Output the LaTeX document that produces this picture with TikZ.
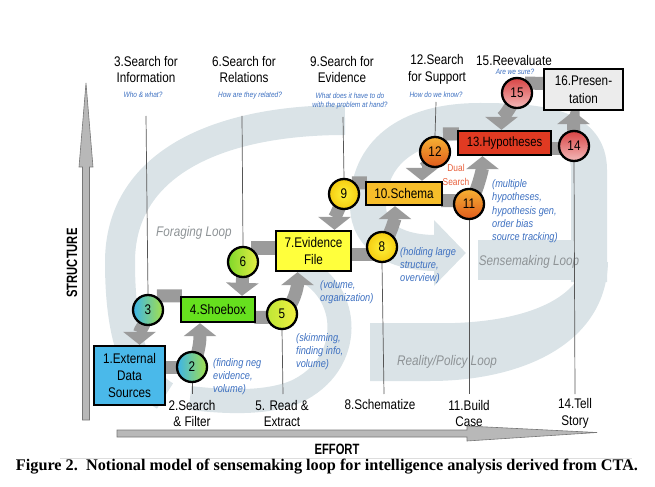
\documentclass[tikz,border=0pt]{standalone}
\usepackage{fontspec}
\setmainfont{Liberation Sans}
\newfontfamily\cnd{Liberation Sans}[FakeStretch=0.84]
\newfontfamily\axf{Liberation Sans}[FakeStretch=0.75]
\newfontfamily\capf{Liberation Serif}
\usetikzlibrary{arrows.meta,calc}
\pgfdeclarelayer{bg}
\pgfdeclarelayer{mid}
\pgfsetlayers{bg,mid,main}
\definecolor{swirl}{HTML}{DAE3E7}
\definecolor{bandc}{HTML}{9B9B9B}
\definecolor{annot}{HTML}{3C6FC0}
\definecolor{loopc}{HTML}{8E9396}
\definecolor{dualc}{HTML}{E8603C}
\definecolor{leadc}{HTML}{555555}
\definecolor{axfill}{HTML}{B8B8B8}
\definecolor{axline}{HTML}{777777}
\definecolor{fillA}{HTML}{4AB9EA}
\definecolor{fillB}{HTML}{66E01E}
\definecolor{fillC}{HTML}{FFFF3C}
\definecolor{fillD}{HTML}{F6BD2A}
\definecolor{fillE}{HTML}{E03A22}
\definecolor{fillF}{HTML}{ECECEC}
\definecolor{cyanc}{HTML}{3CB4EA}
\definecolor{lgreen}{HTML}{A4E04A}
\definecolor{greenc}{HTML}{7FD82A}
\definecolor{ygreen}{HTML}{E6EE44}
\definecolor{ygreenb}{HTML}{BDE636}
\definecolor{yell}{HTML}{F2F040}
\definecolor{yin}{HTML}{FFF23A}
\definecolor{yout}{HTML}{F5CC10}
\definecolor{oran}{HTML}{F6B233}
\definecolor{orred}{HTML}{E05A1C}
\definecolor{redc}{HTML}{D84545}
\definecolor{pinkc}{HTML}{F4B9B9}
\definecolor{sepc}{HTML}{DDDDDD}
\begin{document}
\begin{tikzpicture}[x=1bp,y=-1bp,
  box/.style={draw=black, line width=2.3bp, inner sep=0pt, align=center,
    font=\cnd\fontsize{14}{17.5}\selectfont, text=black},
  num/.style={circle, draw=black, line width=2.3bp, minimum size=30bp,
    inner sep=0pt, font=\cnd\fontsize{14}{14}\selectfont},
  gband/.style={draw=bandc, line width=13bp},
  garrow/.style={gband, -{Triangle[width=32bp,length=13bp]}},
  lead/.style={draw=leadc, line width=0.7bp},
  lab/.style={font=\cnd\fontsize{14}{17}\selectfont, align=center, inner sep=0pt},
  qtext/.style={font=\cnd\itshape\fontsize{7.8}{10}\selectfont, text=annot, align=center, inner sep=0pt},
  ann/.style={font=\cnd\itshape\fontsize{11}{13}\selectfont, text=annot, align=left, inner sep=0pt, anchor=north west},
  loopl/.style={font=\cnd\itshape\fontsize{14}{14}\selectfont, text=loopc, inner sep=0pt},
  dual/.style={font=\cnd\fontsize{10}{14}\selectfont, text=dualc, align=center, inner sep=0pt},
  axl/.style={font=\axf\bfseries\fontsize{15}{15}\selectfont, inner sep=0pt},
  capn/.style={font=\capf\bfseries\fontsize{16.3}{16.3}\selectfont, inner sep=0pt},
  swirlband/.style={draw=swirl, line cap=butt}
]
\useasboundingbox (0,0) rectangle (655,487);

% ---------- boxes ----------
\node[box, fill=fillA, minimum width=71bp, minimum height=59bp] (b1) at (129.5,375.5) {1.External\\Data\\Sources};
\node[box, fill=fillB, minimum width=74bp, minimum height=25bp] (b4) at (218,309.5) {4.Shoebox};
\node[box, fill=fillC, minimum width=75bp, minimum height=40bp] (b7) at (313.5,251) {7.Evidence\\File};
\node[box, fill=fillD, minimum width=76bp, minimum height=23bp] (b10) at (404,193.5) {10.Schema};
\node[box, fill=fillE, minimum width=93bp, minimum height=24bp, font=\cnd\fontsize{13.5}{15}\selectfont] (b13) at (504.5,143) {13.Hypotheses};
\node[box, fill=fillF, minimum width=79bp, minimum height=41bp] (b16) at (583.5,89.5) {16.Presen-\\tation};

% ---------- circles ----------
\node[num, left color=cyanc, right color=lgreen] (c2) at (192,367) {2};
\node[num, left color=cyanc, right color=lgreen] (c3) at (148,310) {3};
\node[num, left color=ygreenb, right color=yell] (c5) at (282,314) {5};
\node[num, left color=greenc, right color=ygreen] (c6) at (243,262) {6};
\node[num, inner color=yin, outer color=yout] (c8) at (382,247) {8};
\node[num, inner color=yin, outer color=yout] (c9) at (344,194) {9};
\node[num, top color=oran, bottom color=orred] (c11) at (469,204) {11};
\node[num, top color=oran, bottom color=orred] (c12) at (435,152) {12};
\node[num, top color=redc, bottom color=pinkc] (c14) at (574,146) {14};
\node[num, top color=redc, bottom color=pinkc] (c15) at (517,93) {15};

% ---------- background swirls ----------
\begin{pgfonlayer}{bg}
\draw[swirlband, line width=30bp] (345,120) .. controls (215,120) and (120,165) .. (120,262) .. controls (120,335) and (135,378) .. (165,396);
\draw[swirlband, line width=24bp] (300,268) .. controls (352,290) and (355,365) .. (295,392) .. controls (265,404) and (225,402) .. (190,398);
\fill[swirl] (478,240) rectangle (592,280);
\draw[swirlband, line width=36bp, -{Triangle[width=64bp,length=32bp]}] (589,282) -- (589,170) .. controls (589,128) and (545,121) .. (480,121) .. controls (405,121) and (368,155) .. (368,205) .. controls (368,240) and (400,253) .. (466,253);
\fill[swirl] (370,323) -- (455,323) .. controls (535,320) and (578,295) .. (585,262) -- (608,262) .. controls (606,345) and (520,381) .. (430,381) -- (370,381) -- cycle;
\node[loopl] (fl) at (194,233) {Foraging Loop};
\node[loopl] (sl) at (529,262) {Sensemaking Loop};
\node[loopl] (rl) at (447,362) {Reality/Policy Loop};
\draw[sepc, line width=0.8bp] (60,458) -- (632,458);
\end{pgfonlayer}

% ---------- leader lines, connectors ----------
\coordinate (t3) at (146,116);
\coordinate (t6) at (242,116);
\coordinate (t9) at (343,117);
\coordinate (t12) at (436,102);
\coordinate (d2) at (192,394);
\coordinate (d5) at (283,394);
\coordinate (d8) at (384,394);
\coordinate (d11) at (469,394);
\coordinate (d14) at (575,394);
\begin{pgfonlayer}{mid}
\node[dual] (ds) at (456,175) {Dual\\Search};
\draw[lead] (t3) -- (c3.north);
\draw[lead] (t6) -- (c6.north);
\draw[lead] (t9) -- (c9.north);
\draw[lead] (t12) -- (c12.north);
\draw[lead] (c2.south) -- (d2);
\draw[lead] (c5.south) -- (d5);
\draw[lead] (c8.south) -- (d8);
\draw[lead] (c11.south) -- (d11);
\draw[lead] (c14.south) -- (d14);
% 1 -> 2 -> 4
\draw[gband] (b1.east |- c2) -- (c2.center);
\draw[garrow] (c2.center) .. controls +(8,-15) and +(0,15) .. ($(b4.south)+(-18,0)$);
% 4 -> 3 -> 1
\draw[gband] ($(b4.north west)+(2,0)$) -- ($(c3)+(9,-14)$);
\draw[garrow] (c3.center) .. controls +(-2,15) and +(0,-15) .. ($(b1.north)+(10,0)$);
% 4 -> 5 -> 7
\draw[gband] ($(b4.east)+(-2,8)$) -- ($(c5)+(0,3)$);
\draw[garrow] (c5.center) .. controls +(12,-8) and +(0,14) .. ($(b7.south)+(-16,0)$);
% 7 -> 6 -> 4
\draw[gband] ($(b7.west)+(2,-3)$) -- ($(c6)+(8,-14)$);
\draw[garrow] (c6.center) -- ($(b4.north)+(24,0)$);
% 7 -> 8 -> 10
\draw[gband] ($(b7.east)+(-2,3)$) -- ($(c8)+(0,7)$);
\draw[garrow] (c8.center) .. controls +(8,-10) and +(0,12) .. ($(b10.south)+(-9,0)$);
% 10 -> 9 -> 7
\draw[gband] ($(b10.north west)+(2,2)$) -- ($(c9)+(8,-11)$);
\draw[garrow] (c9.center) .. controls +(-4,14) and +(0,-12) .. ($(b7.north)+(21,0)$);
% 10 -> 11 -> 13
\draw[gband] ($(b10.east)+(-2,7)$) -- ($(c11)+(0,-3)$);
\draw[garrow] (c11.center) .. controls +(8,-10) and +(0,12) .. ($(b13.south)+(-22,0)$);
% 13 -> 12 -> 10
\draw[gband] ($(b13.north west)+(2,4)$) -- ($(c12)+(8,-18)$);
\draw[garrow] (c12.center) .. controls +(-3,12) and +(0,-10) .. ($(b10.north)+(18,0)$);
% 13 -> 14 -> 16
\draw[gband] ($(b13.east)+(-2,6)$) -- ($(c14)+(0,3)$);
\draw[garrow] (c14.center) .. controls +(0,-10) and +(0,10) .. ($(b16.south)+(-10,0)$);
% 16 -> 15 -> 13
\draw[gband] ($(b16.west)+(2,-6)$) -- ($(c15)+(8,-10)$);
\draw[garrow] (c15.center) .. controls +(-5,14) and +(0,-10) .. ($(b13.north)+(-3,0)$);
\end{pgfonlayer}

% ---------- axes ----------
\filldraw[fill=axfill, draw=axline, line width=0.6bp] (82.5,420) -- (82.5,167) -- (79,167) -- (86,83) -- (93,167) -- (89.5,167) -- (89.5,420) -- cycle;
\filldraw[fill=axfill, draw=axline, line width=0.6bp] (117,430) -- (467,430) -- (467,426) -- (597,432.5) -- (467,441) -- (467,437) -- (117,437) -- cycle;
\node[axl, rotate=90] (sy) at (72,263) {STRUCTURE};
\node[axl] (sx) at (337,449) {EFFORT};

% ---------- labels ----------
\node[lab] (l3) at (146,69.5) {3.Search for\\Information};
\node[qtext] (q3) at (143,95) {Who \& what?};
\node[lab] (l6) at (244,69.5) {6.Search for\\Relations};
\node[qtext] (q6) at (250,95) {How are they related?};
\node[lab] (l9) at (342,69.5) {9.Search for\\Evidence};
\node[qtext] (q9) at (350,101) {What does it have to do\\with the problem at hand?};
\node[lab] (l12) at (437,69.5) {12.Search\\for Support};
\node[qtext] (q12) at (436,95) {How do we know?};
\node[lab] (l15) at (514,61) {15.Reevaluate};
\node[qtext] (q15) at (515,72) {Are we sure?};

\node[lab] (l2) at (192,413.5) {2.Search\\\& Filter};
\node[lab] (l5) at (282,413.5) {5. Read \&\\Extract};
\node[lab] (l8) at (380,405) {8.Schematize};
\node[lab] (l11) at (469,413.5) {11.Build\\Case};
\node[lab] (l14) at (575,413.5) {14.Tell\\Story};

\node[ann] (a2) at (213,358) {(finding neg\\evidence,\\volume)};
\node[ann] (a5) at (296,333) {(skimming,\\finding info,\\volume)};
\node[ann] (a7) at (320,280) {(volume,\\organization)};
\node[ann] (a8) at (400,247) {(holding large\\structure,\\overview)};
\node[ann, font=\cnd\itshape\fontsize{11}{13.5}\selectfont] (a11) at (492,179) {(multiple\\hypotheses,\\hypothesis gen,\\order bias\\source tracking)};

\node[capn] (cap) at (327,467) {Figure 2.\hspace{0.5em}Notional model of sensemaking loop for intelligence analysis derived from CTA.};
\end{tikzpicture}
\end{document}
